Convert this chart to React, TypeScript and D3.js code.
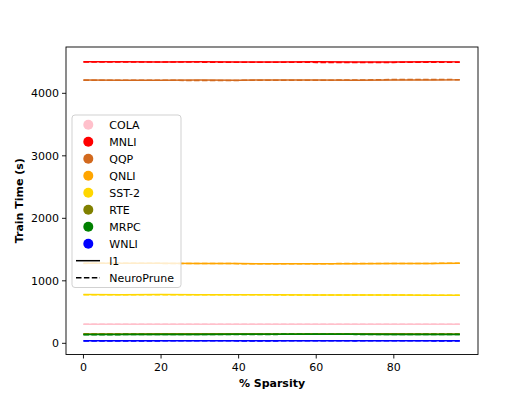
import React from 'react';
import * as d3 from 'd3';

// x values (% sparsity)
const sparsity = [0, 10, 20, 30, 40, 50, 60, 70, 80, 90, 97];

const tasks = ['COLA', 'MNLI', 'QQP', 'QNLI', 'SST-2', 'RTE', 'MRPC', 'WNLI'];
const colors = ['pink', 'red', 'chocolate', 'orange', 'gold', 'olive', 'green', 'blue'];

// train time (s) per task, l1
const l1Times = [
  [305, 306, 305, 304, 305, 306, 305, 304, 305, 305, 304],
  [4505, 4504, 4503, 4505, 4502, 4503, 4504, 4502, 4503, 4504, 4503],
  [4212, 4211, 4210, 4212, 4211, 4213, 4212, 4211, 4214, 4213, 4215],
  [1282, 1281, 1280, 1278, 1276, 1272, 1273, 1275, 1276, 1278, 1280],
  [780, 779, 780, 779, 778, 776, 775, 774, 773, 771, 770],
  [150, 151, 152, 153, 152, 151, 152, 153, 152, 151, 150],
  [140, 141, 142, 143, 144, 145, 145, 144, 143, 142, 142],
  [40, 40, 41, 40, 40, 41, 40, 40, 41, 40, 40],
];

// train time (s) per task, NeuroPrune
const neuroTimes = [
  [306, 305, 306, 305, 304, 305, 306, 305, 304, 305, 305],
  [4500, 4501, 4500, 4499, 4498, 4496, 4495, 4494, 4495, 4496, 4497],
  [4208, 4207, 4208, 4206, 4207, 4208, 4210, 4212, 4220, 4222, 4218],
  [1279, 1280, 1279, 1277, 1275, 1273, 1274, 1276, 1277, 1279, 1281],
  [778, 779, 778, 777, 776, 775, 774, 773, 772, 770, 769],
  [152, 153, 153, 152, 153, 152, 153, 152, 151, 152, 151],
  [138, 139, 141, 142, 142, 143, 144, 143, 142, 141, 141],
  [38, 39, 39, 40, 39, 39, 40, 39, 40, 39, 39],
];

const xTicks = [0, 20, 40, 60, 80];
const yTicks = [0, 1000, 2000, 3000, 4000];

const W = 531;
const H = 399;
const plot = { left: 66, right: 478, top: 47, bottom: 354.5 };
const font = 'DejaVu Sans, sans-serif';

export default function App() {
  const x = d3.scaleLinear().domain([-4.5, 101.7]).range([plot.left, plot.right]);
  const y = d3.scaleLinear().domain([-179, 4741]).range([plot.bottom, plot.top]);

  const line = d3.line<number>()
    .x((d, i) => x(sparsity[i]))
    .y(d => y(d));

  const legendX = 72;
  const legendY = 115;
  const rowH = 17;

  return (
    <svg width={W} height={H} style={{ position: 'absolute', left: 0, top: 0 }}>
      <rect width={W} height={H} fill="white" />

      {/* series */}
      <g fill="none" strokeWidth={1.5}>
        {tasks.map((t, k) => (
          <g key={t}>
            <path d={line(l1Times[k]) || ''} stroke={colors[k]} />
            <path d={line(neuroTimes[k]) || ''} stroke={colors[k]} strokeDasharray="5.5,2.4" />
          </g>
        ))}
      </g>

      {/* frame */}
      <rect x={plot.left} y={plot.top} width={plot.right - plot.left} height={plot.bottom - plot.top}
        fill="none" stroke="black" strokeWidth={0.9} />

      {/* x axis */}
      <g fontFamily={font} fontSize={11} textAnchor="middle">
        {xTicks.map(v => (
          <g key={v} transform={`translate(${x(v)},${plot.bottom})`}>
            <line y2={4} stroke="black" strokeWidth={0.9} />
            <text y={16.5}>{v}</text>
          </g>
        ))}
      </g>
      <text x={(plot.left + plot.right) / 2} y={387} textAnchor="middle" fontFamily={font}
        fontSize={11} fontWeight="bold">% Sparsity</text>

      {/* y axis */}
      <g fontFamily={font} fontSize={11} textAnchor="end">
        {yTicks.map(v => (
          <g key={v} transform={`translate(${plot.left},${y(v)})`}>
            <line x2={-4} stroke="black" strokeWidth={0.9} />
            <text x={-7} dy="0.36em">{v}</text>
          </g>
        ))}
      </g>
      <text transform={`translate(23,${(plot.top + plot.bottom) / 2}) rotate(-90)`} textAnchor="middle"
        fontFamily={font} fontSize={11} fontWeight="bold">Train Time (s)</text>

      {/* legend */}
      <rect x={legendX} y={legendY} width={109} height={172.5} rx={3} fill="white" fillOpacity={0.8}
        stroke="#cccccc" strokeWidth={0.9} />
      <g fontFamily={font} fontSize={11}>
        {tasks.map((t, k) => (
          <g key={t} transform={`translate(${legendX},${legendY + 9.7 + k * rowH})`}>
            <circle cx={16.3} cy={0} r={5} fill={colors[k]} />
            <text x={37.3} dy="0.36em">{t}</text>
          </g>
        ))}
        <g transform={`translate(${legendX},${legendY + 9.7 + 8 * rowH})`}>
          <line x1={4} x2={28} stroke="black" strokeWidth={1.5} />
          <text x={37.3} dy="0.36em">l1</text>
        </g>
        <g transform={`translate(${legendX},${legendY + 9.7 + 9 * rowH})`}>
          <line x1={4} x2={28} stroke="black" strokeWidth={1.5} strokeDasharray="5.5,2.4" />
          <text x={37.3} dy="0.36em">NeuroPrune</text>
        </g>
      </g>
    </svg>
  );
}
